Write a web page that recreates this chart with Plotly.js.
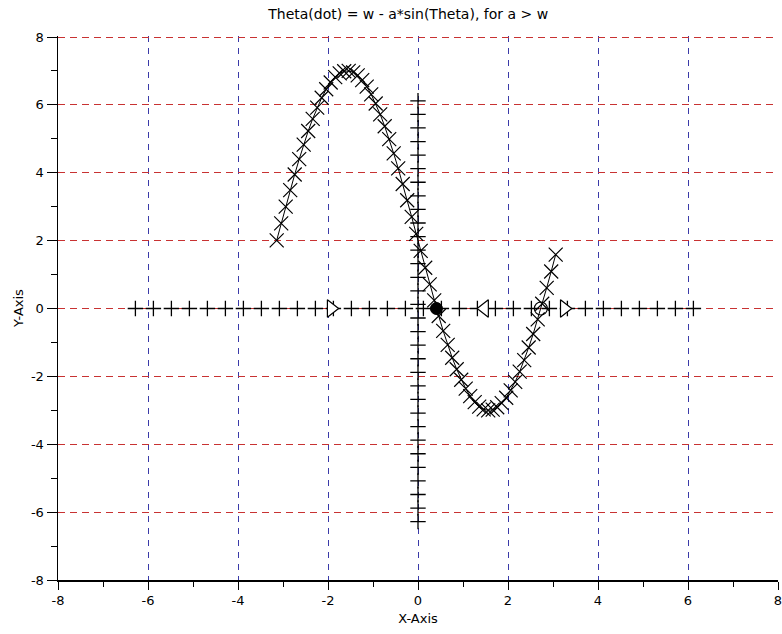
<!DOCTYPE html>
<html>
<head>
<meta charset="utf-8">
<script src="https://cdn.plot.ly/plotly-3.0.1.min.js"></script>
<style>html,body{margin:0;padding:0;background:#fff;}#chart{width:782px;height:634px;}</style>
</head>
<body>
<div id="chart"></div>
<script>
// Curve Theta(dot) vs Theta
const thetaX = [-3.14,-3.04,-2.94,-2.84,-2.74,-2.64,-2.54,-2.44,-2.34,-2.24,-2.14,-2.04,-1.94,-1.84,-1.74,-1.64,-1.54,-1.44,-1.34,-1.24,-1.14,-1.04,-0.94,-0.84,-0.74,-0.64,-0.54,-0.44,-0.34,-0.24,-0.14,-0.04,0.06,0.16,0.26,0.36,0.46,0.56,0.66,0.76,0.86,0.96,1.06,1.16,1.26,1.36,1.46,1.56,1.66,1.76,1.86,1.96,2.06,2.16,2.26,2.36,2.46,2.56,2.66,2.76,2.86,2.96,3.06];
const thetaDot = [2.01,2.51,3.00,3.49,3.95,4.40,4.83,5.23,5.59,5.92,6.21,6.46,6.66,6.82,6.93,6.99,7.00,6.96,6.87,6.73,6.54,6.31,6.04,5.72,5.37,4.99,4.57,4.13,3.67,3.19,2.70,2.20,1.70,1.20,0.71,0.24,-0.22,-0.66,-1.07,-1.45,-1.79,-2.10,-2.36,-2.58,-2.76,-2.89,-2.97,-3.00,-2.98,-2.91,-2.79,-2.63,-2.41,-2.16,-1.86,-1.52,-1.15,-0.75,-0.32,0.14,0.61,1.09,1.59];
// Phase-line "+" marks along the axes
const axisMarks = [-6.28,-5.88,-5.48,-5.08,-4.68,-4.28,-3.88,-3.48,-3.08,-2.68,-2.28,-1.88,-1.48,-1.08,-0.68,-0.28,0.12,0.52,0.92,1.32,1.72,2.12,2.52,2.92,3.32,3.72,4.12,4.52,4.92,5.32,5.72,6.12];
const axisZeros = axisMarks.map(() => 0);
// Flow arrows and fixed points
const arrowRightX = [-1.93, 3.25];
const arrowLeftX = [1.48];
const stableX = [0.41];
const unstableX = [2.73];
// Tick labels
const tickVals = [-8,-6,-4,-2,0,2,4,6,8];
const tickText = ["-8","-6","-4","-2","0","2","4","6","8"];

const traces = [
  {x: axisMarks, y: axisZeros, mode: 'markers', type: 'scatter',
   marker: {symbol: 'cross-thin-open', size: 11, color: 'black', line: {color: 'black', width: 1.3}}},
  {x: axisZeros, y: axisMarks, mode: 'markers', type: 'scatter',
   marker: {symbol: 'cross-thin-open', size: 11, color: 'black', line: {color: 'black', width: 1.3}}},
  {x: thetaX, y: thetaDot, mode: 'lines+markers', type: 'scatter',
   line: {color: 'black', width: 1},
   marker: {symbol: 'x-thin-open', size: 14, color: 'black', line: {color: 'black', width: 1.2}}},
  {x: arrowRightX, y: arrowRightX.map(() => 0), mode: 'markers', type: 'scatter',
   marker: {symbol: 'triangle-right', size: 15, color: 'white', line: {color: 'black', width: 1.2}}},
  {x: arrowLeftX, y: arrowLeftX.map(() => 0), mode: 'markers', type: 'scatter',
   marker: {symbol: 'triangle-left', size: 15, color: 'white', line: {color: 'black', width: 1.2}}},
  {x: stableX, y: [0], mode: 'markers', type: 'scatter',
   marker: {symbol: 'circle', size: 12, color: 'black', line: {color: 'black', width: 1}}},
  {x: unstableX, y: [0], mode: 'markers', type: 'scatter',
   marker: {symbol: 'circle-open', size: 13, color: 'black', line: {color: 'black', width: 1.2}}}
];

const fam = 'DejaVu Sans, Liberation Sans, sans-serif';
const layout = {
  width: 782, height: 634,
  margin: {l: 58, r: 4, t: 36, b: 54},
  paper_bgcolor: 'white', plot_bgcolor: 'white',
  showlegend: false,
  font: {family: fam, size: 13, color: '#000000'},
  title: {text: 'Theta(dot) = w - a*sin(Theta), for a > w', x: 0.522, xanchor: 'center', y: 0.977, yanchor: 'middle', font: {family: fam, size: 14, color: '#000000'}},
  xaxis: {
    range: [-8, 8], tickmode: 'array', tickvals: tickVals, ticktext: tickText,
    ticks: 'outside', ticklen: 8, tickcolor: '#000000', tickwidth: 1,
    ticklabeloverflow: 'allow',
    showline: true, linecolor: '#000000', linewidth: 1.5, mirror: false,
    showgrid: true, gridcolor: '#3a3aa8', gridwidth: 1, griddash: '6px,6px',
    zeroline: false,
    minor: {dtick: 1, tick0: 0, ticks: 'outside', ticklen: 5, tickcolor: '#000000', showgrid: false},
    title: {text: 'X-Axis', standoff: 7, font: {family: fam, size: 13, color: '#000000'}},
    tickfont: {family: fam, size: 13, color: '#000000'}, fixedrange: true
  },
  yaxis: {
    range: [-8, 8.03], tickmode: 'array', tickvals: tickVals, ticktext: tickText,
    ticks: 'outside', ticklen: 10, tickcolor: '#000000', tickwidth: 1,
    ticklabeloverflow: 'allow',
    showline: true, linecolor: '#000000', linewidth: 1.5, mirror: false,
    showgrid: true, gridcolor: '#c83232', gridwidth: 1, griddash: '7px,5px',
    zeroline: false,
    minor: {dtick: 1, tick0: 0, ticks: 'outside', ticklen: 6, tickcolor: '#000000', showgrid: false},
    title: {text: 'Y-Axis', standoff: 4, font: {family: fam, size: 13, color: '#000000'}},
    tickfont: {family: fam, size: 13, color: '#000000'}, fixedrange: true
  }
};

Plotly.newPlot('chart', traces, layout, {displayModeBar: false, staticPlot: true});
</script>
</body>
</html>
